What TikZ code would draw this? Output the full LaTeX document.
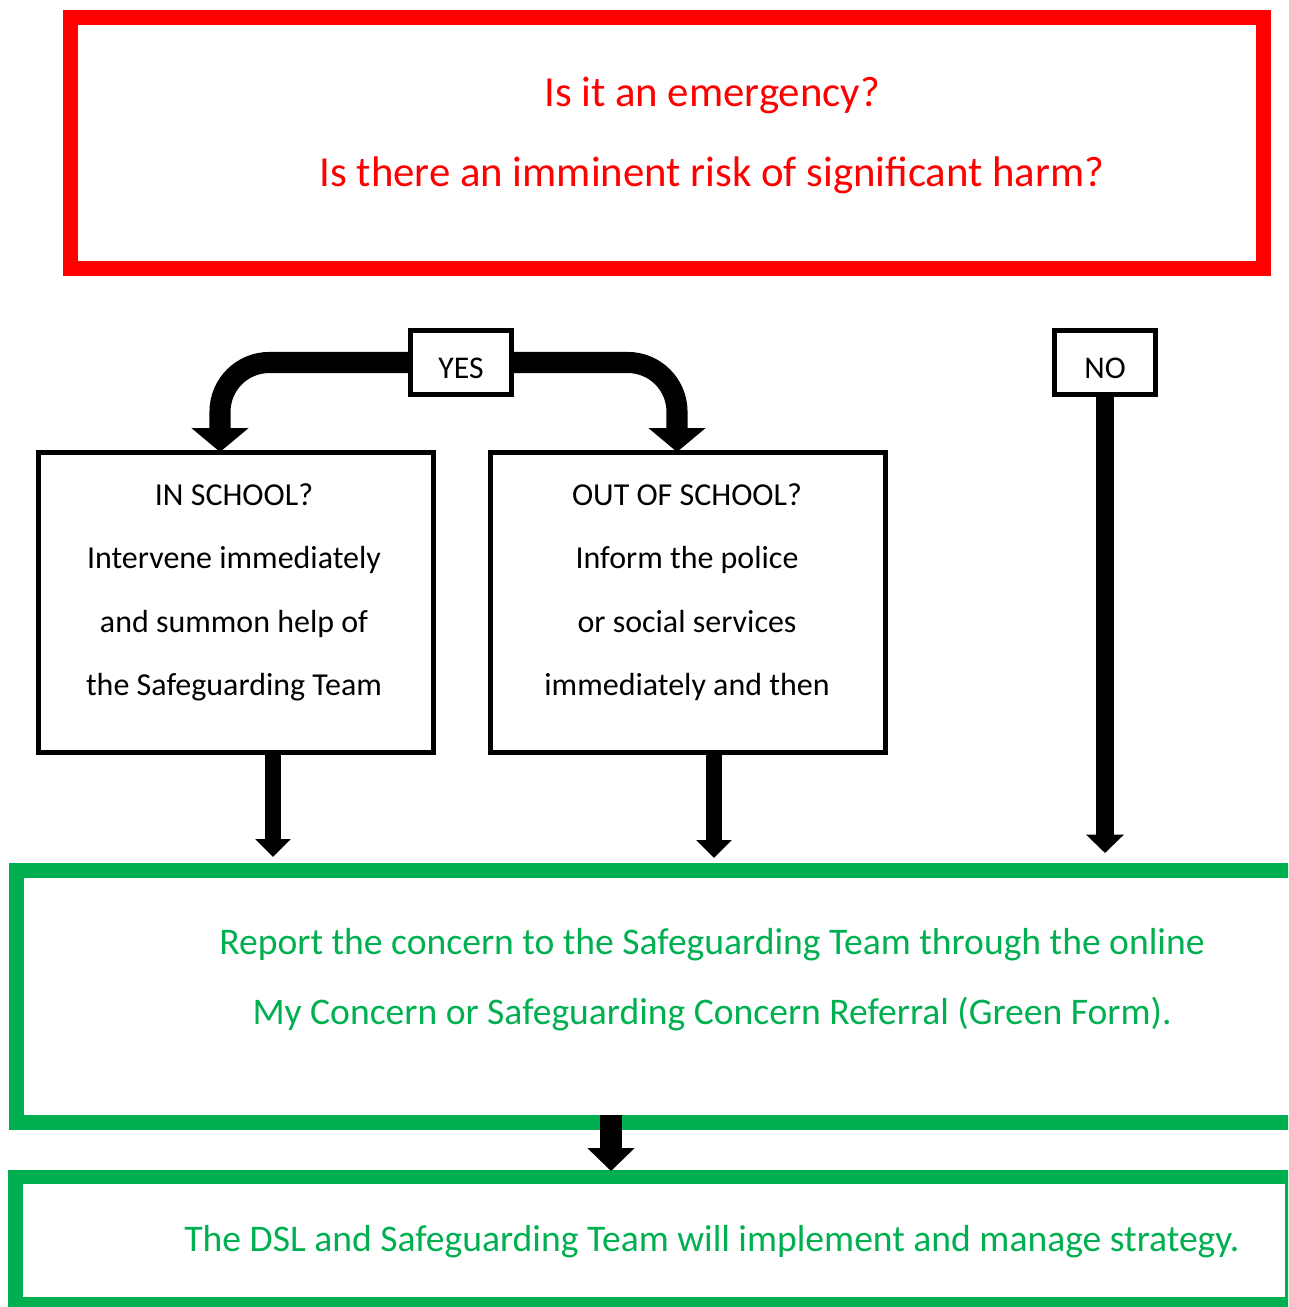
\documentclass[tikz,border=0pt]{standalone}
\usepackage{fontspec}
\setmainfont{Carlito}
\usetikzlibrary{arrows.meta}
\definecolor{alertred}{HTML}{FF0000}
\definecolor{reportgreen}{HTML}{00B050}

\begin{document}
\begin{tikzpicture}[x=0.02cm,y=-0.02cm,
    box/.style={draw,line width=3.1pt,minimum width=7.9cm,minimum height=6cm},
    tag/.style={draw,line width=3pt,minimum width=2.02cm,minimum height=1.28cm,
        text height=17.8pt,text depth=0pt,font=\fontsize{18}{20}\selectfont},
    boxtext/.style={anchor=base,font=\fontsize{18.2}{20}\selectfont},
    bigtext/.style={anchor=base,font=\fontsize{24.35}{28}\selectfont},
    greentext/.style={anchor=base,text=reportgreen,font=\fontsize{21.4}{26}\selectfont},
    yesarrow/.style={line width=12pt,rounded corners=28pt,-{Triangle[width=31.7pt,length=13.6pt]}},
    downarrow/.style={line width=9.6pt,-{Triangle[width=19.5pt,length=10.2pt]}},
    noarrow/.style={line width=10.5pt,-{Triangle[width=21pt,length=10.5pt]}},
    nextarrow/.style={line width=12.5pt,-{Triangle[width=26pt,length=13pt]}}]
    \useasboundingbox (0,0) rectangle (1288,1307);
    \clip (0,0) rectangle (1288,1307);

    % question
    \node[draw=alertred,line width=8.5pt,minimum width=23.86cm,minimum height=5.02cm] (question) at (667,143) {};
    \node[bigtext,text=alertred] (q1) at (712,107) {Is it an emergency?};
    \node[bigtext,text=alertred] (q2) at (712,187) {Is there an imminent risk of significant harm?};

    % answers
    \node[tag] (yes) at (461,362.5) {YES};
    \node[tag] (no) at (1105,362.5) {NO};

    \node[box] (inschool) at (236,602.5) {};
    \node[boxtext] at (234,505) {IN SCHOOL?};
    \node[boxtext] at (234,568) {Intervene immediately};
    \node[boxtext] at (234,632) {and summon help of};
    \node[boxtext] at (234,695) {the Safeguarding Team};

    \node[box] (outschool) at (688,602.5) {};
    \node[boxtext] at (687,505) {OUT OF SCHOOL?};
    \node[boxtext] at (687,568) {Inform the police};
    \node[boxtext] at (687,632) {or social services};
    \node[boxtext] at (687,695) {immediately and then};

    % reporting
    \node[draw=reportgreen,line width=8.5pt,minimum width=25.87cm,minimum height=5.04cm] (report) at (663.25,996.5) {};
    \node[greentext] at (712,954.5) {Report the concern to the Safeguarding Team through the online};
    \node[greentext] at (712,1024.5) {My Concern or Safeguarding Concern Referral (Green Form).};

    \node[draw=reportgreen,line width=8.5pt,minimum width=25.55cm,minimum height=2.55cm] (strategy) at (653.75,1240.75) {};
    \node[greentext] at (712,1251.5) {The DSL and Safeguarding Team will implement and manage strategy.};

    \coordinate (inTop) at (220,452);
    \coordinate (outTop) at (677,452);
    \draw[yesarrow] (yes.west) -| (inTop);
    \draw[yesarrow] (yes.east) -| (outTop);

    \draw[downarrow] (inschool.south -| 273,0) -- (273,857);
    \draw[downarrow] (outschool.south -| 714,0) -- (714,858);
    \draw[noarrow] (no.south) -- (1105,853);
    \draw[nextarrow] (611,1115) -- (611,1171);
\end{tikzpicture}
\end{document}
